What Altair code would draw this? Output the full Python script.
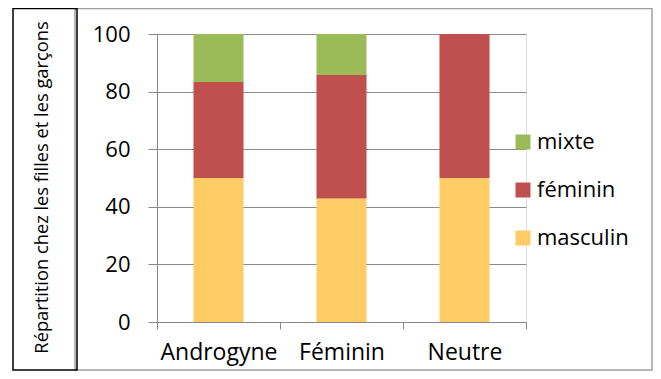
import altair as alt
import pandas as pd

categories = ["Androgyne", "Féminin", "Neutre"]
series = ["masculin", "féminin", "mixte"]
masculin = [50.0, 42.9, 50.0]
feminin = [33.3, 42.9, 50.0]
mixte = [16.7, 14.2, 0.0]
colors = {"mixte": "#9BBB59", "féminin": "#C0504D", "masculin": "#FFCC66"}
legend_order = ["mixte", "féminin", "masculin"]

rows = []
for i, c in enumerate(categories):
    for k, (s, vals) in enumerate(zip(series, [masculin, feminin, mixte])):
        rows.append({"cat": c, "serie": s, "val": vals[i], "rank": k})
df = pd.DataFrame(rows)

FONT = "Open Sans"

bars = alt.Chart(df).mark_bar(width=alt.RelativeBandSize(0.407)).encode(
    x=alt.X("cat:N", sort=categories, title=None,
            scale=alt.Scale(paddingInner=0, paddingOuter=0),
            axis=alt.Axis(labelAngle=0, tickBand="extent", tickSize=7,
                          tickColor="#888888", domainColor="#888888",
                          labelFontSize=23, labelFont=FONT, labelColor="#000000",
                          labelPadding=12, grid=False)),
    y=alt.Y("val:Q", stack="zero", title="Répartition chez les filles et les garçons",
            scale=alt.Scale(domain=[0, 100], nice=False),
            axis=alt.Axis(values=[0, 20, 40, 60, 80, 100], tickSize=9,
                          tickColor="#888888", domainColor="#888888",
                          gridColor="#8c8c8c", grid=True,
                          labelFontSize=22, labelFont=FONT, labelColor="#000000",
                          labelPadding=18,
                          titleFont=FONT, titleFontSize=18.3, titleFontWeight="normal",
                          titleColor="#000000", titleX=-115, titleY=153,
                          titleBaseline="middle")),
    color=alt.Color("serie:N",
                    scale=alt.Scale(domain=legend_order,
                                    range=[colors[s] for s in legend_order]),
                    legend=alt.Legend(title=None, orient="none", legendX=355, legendY=97,
                                      symbolType="square", symbolSize=225,
                                      symbolStrokeWidth=0, labelFontSize=22,
                                      labelFont=FONT, labelColor="#000000",
                                      rowPadding=26, labelOffset=3, padding=0)),
    order=alt.Order("rank:Q", sort="ascending"),
)

frame_df = pd.DataFrame({"f": [1]})
outer = alt.Chart(frame_df).mark_rect(fill=None, stroke="#a0a0a0", strokeWidth=1.5, clip=False).encode(
    x=alt.value(-82), x2=alt.value(495), y=alt.value(-25.5), y2=alt.value(336))
title_box = alt.Chart(frame_df).mark_rect(fill=None, stroke="#000000", strokeWidth=1.5, clip=False).encode(
    x=alt.value(-144), x2=alt.value(-80), y=alt.value(-25.5), y2=alt.value(336))

chart = alt.layer(outer, title_box, bars).properties(
    width=369, height=288,
    autosize=alt.AutoSizeParams(type="none"),
    padding={"left": 149, "top": 26, "right": 127, "bottom": 49},
).configure_view(stroke=None).configure(background="white")

chart.save("out.html", embed_options={"renderer": "svg", "actions": False})
